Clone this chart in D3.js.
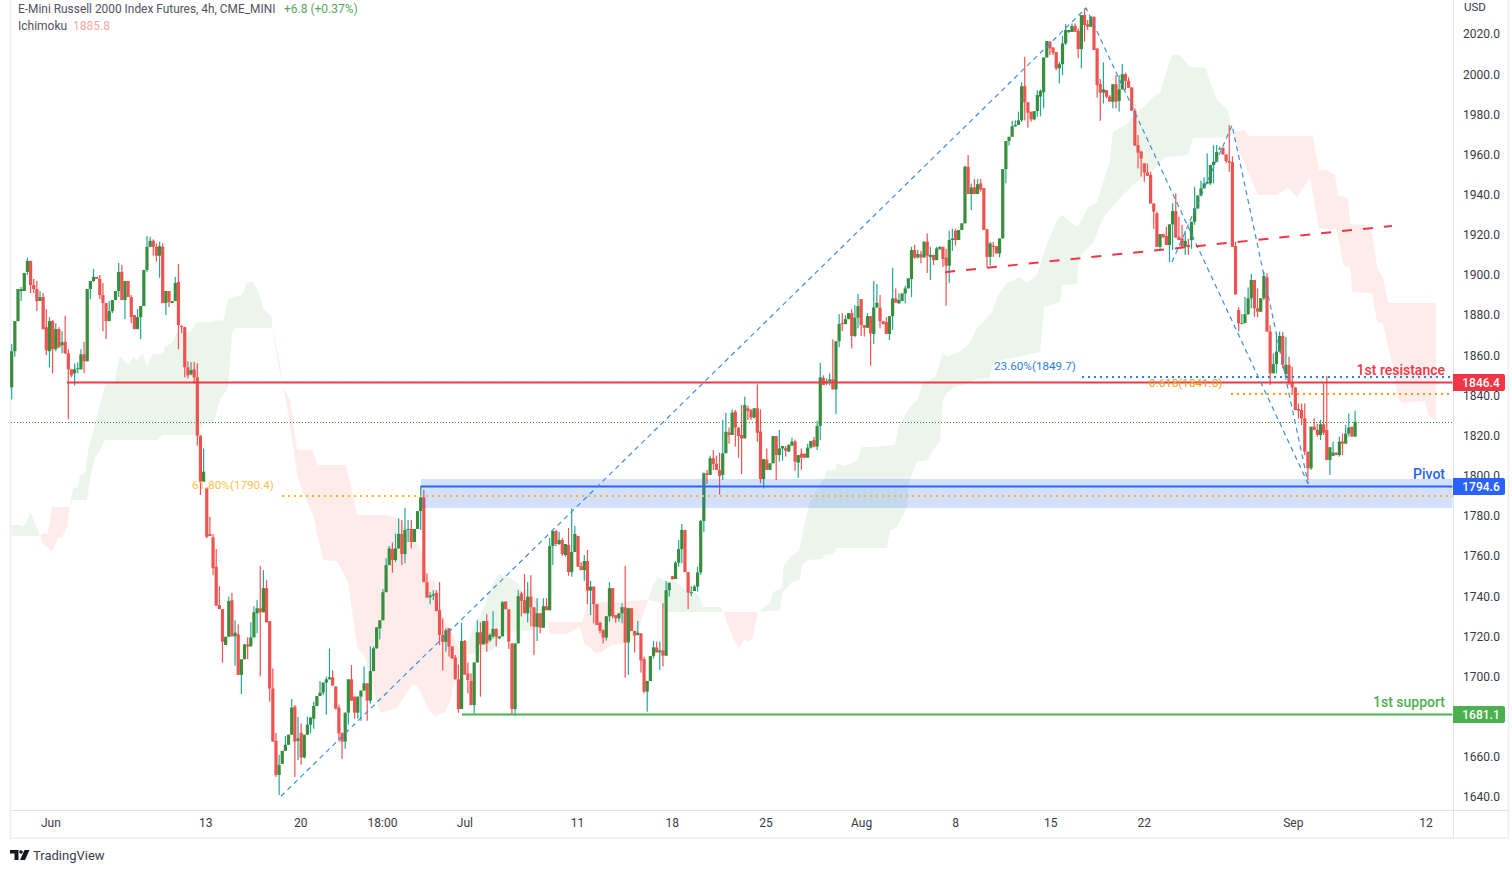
<!DOCTYPE html>
<html>
<head>
<meta charset="utf-8">
<style>
  html, body { margin: 0; padding: 0; background: #fff; overflow: hidden; }
  text { font-family: Roboto, sans-serif; }
</style>
<script src="https://cdn.jsdelivr.net/npm/d3@7"></script>
</head>
<body>
<div id="chart"></div>
<script>
// bars are [open, high, low, close]
const juneBars = [
  [1844,1865.6,1838,1862],[1862,1877,1859.3,1877],[1877,1893,1877,1893],[1892,1894,1887,1893],[1892,1901,1892,1901],
  [1901.5,1908.6,1900,1907],[1907,1907,1891,1895],[1895,1898,1891,1893],[1893,1897,1882,1887],[1887,1892,1887,1889],
  [1889,1891,1873,1873],[1874,1883,1860,1862.5],[1862,1879,1854,1877],[1877,1877.5,1851,1863],[1863,1876,1862,1873],
  [1873,1874,1863.5,1864],[1865,1872,1861,1866.5],[1866.7,1879.7,1860.6,1861],[1861,1863,1828,1853],[1853,1853,1849,1850],
  [1851,1856,1845,1853],[1853,1856.5,1851,1853.5],[1853,1863,1853,1860.5],[1860.5,1866.7,1851,1857],[1857,1893,1857,1893],
  [1893,1897,1888,1897],[1897,1903,1896.5,1899],[1899,1899,1898,1898],[1898,1900,1888,1890],[1890,1896,1872,1886],
  [1886,1886,1868,1877],[1877,1887,1877,1882],[1882,1887.5,1881,1887.5],[1887.5,1892,1887.5,1892],[1892,1906,1889,1901.5],
  [1901.5,1905,1887.5,1887.5],[1887.5,1897,1878,1897],[1897,1897,1889,1889],[1889,1890,1876,1879],[1880,1880,1873,1873],
  [1873,1883,1873,1879],[1879,1884.5,1868,1884.5],[1884.5,1902.5,1884.5,1902.5],[1902.5,1919.4,1901.5,1914],[1914,1919,1914,1917],
  [1917,1917.7,1909.6,1914],[1914,1915.7,1906.6,1909.6],[1909.6,1916.5,1898.6,1914.3],[1914,1915.7,1886,1886],[1886,1892,1880,1892],
  [1892,1892,1884,1886.5],[1886,1887,1886,1887],[1887,1899,1887,1896],[1896.5,1905.4,1863,1875],[1874.5,1875,1871,1874],
  [1874,1874,1849,1854],[1854,1857,1848.5,1850],[1850.5,1856.7,1850,1852.6],[1853,1856.7,1846,1849],[1849,1856,1815,1820],
  [1820,1820,1790.4,1797],[1797,1813.6,1797,1802],[1794,1794,1768.8,1769.6],[1771,1779.6,1770,1770],[1769.3,1771,1750.5,1754],
  [1754.7,1763.5,1735.3,1735.3],[1735.6,1745,1733.6,1733.6],[1733.6,1733.6,1706.9,1717.4],[1715.7,1719.8,1715.7,1719.8],[1719.8,1739.8,1719.8,1737.6],
  [1738,1741.7,1720,1720],[1720,1728,1705.4,1721.8],[1721,1726,1700.8,1700.8],[1700.8,1708.6,1691.3,1708.6],[1708.6,1716,1708.6,1716],
  [1716,1719.5,1708.6,1715],[1715,1727,1715,1719.5],[1719.5,1735,1719.5,1732],[1731.5,1738,1721.5,1734],[1734,1755,1700,1732],
  [1732,1753,1732,1744],[1744,1748,1727,1727],[1727.6,1727.6,1687.5,1694],[1694,1704,1667.6,1667.6],[1668,1672,1650,1651],
  [1651,1661,1641,1656],[1656.5,1663,1656.5,1663],[1663,1670.4,1663,1666],[1666,1671,1666,1671],[1671,1688.8,1671,1684.6],
  [1685,1685.8,1650,1667.6],[1668,1680,1658.4,1669.2],[1672,1676.7,1656,1659.7],[1659.7,1671,1659.2,1671],[1671,1680,1671,1676],
  [1676,1680,1671.7,1679.5],[1679,1687.5,1674,1685.3],[1685.3,1690.3,1685.3,1690.3],[1690.3,1697.7,1690.3,1692],[1692,1697,1690.8,1697],
  [1697,1700,1681,1698.6],[1698.6,1714,1698.6,1699.6],[1699.6,1703,1695.5,1695.5],[1695,1695,1683.5,1684],[1684.5,1686,1667.6,1671.7],
  [1672,1672,1659,1667.6],[1667.6,1682,1664,1682],[1682,1698.6,1676,1698.6],[1698.6,1705.7,1688,1688],[1690,1690,1679,1682],
  [1682,1690,1679,1690],[1690,1693,1678,1693],[1693,1705,1693,1696.6],[1696.6,1696.6,1678,1688],[1688,1715,1686.6,1702.7],
  [1702.7,1715,1702.7,1714],[1714,1724.5,1714,1724.5],[1724,1728,1718.5,1728],[1728,1743.6,1728,1742],[1742,1759,1742,1755.5],
  [1755.5,1765,1755.5,1763.8],[1763.5,1766.8,1751.7,1758],[1758,1771.3,1757,1763.8],[1763.8,1778.8,1763.8,1771],[1771,1778,1755.5,1761],
  [1761,1784,1756.4,1773],[1773,1778,1767,1773.5],[1773.5,1778,1763.8,1767],[1767,1773.5,1767,1773.5],[1773.5,1782.4,1773.5,1782.4],
  [1782.4,1795,1773,1789.2],[1789.2,1793,1747,1747],[1747,1751.4,1739,1739.3],[1739.5,1742,1736,1740.3],[1740.3,1743,1738,1741],
  [1741.7,1743,1732.6,1732.6],[1733,1747,1715.7,1720.7],[1720.7,1729,1703,1717.3],[1717.3,1724,1712.4,1723],[1724,1724,1709.9,1714.9],
  [1715,1715,1709,1709],[1709.5,1710.7,1698.6,1698.6],[1698.6,1706,1682,1683.8]
];
const julyBars = [
  [1683.8,1726.8,1683.8,1717.7],[1717.7,1718.2,1701,1701],[1701.5,1707,1691.6,1698.3],[1697.8,1701.6,1685.8,1685.8],[1685.8,1707,1681.6,1707],
  [1707,1728,1707,1722],[1722,1727,1690,1716],[1716,1727.6,1716,1727.6],[1727.6,1731,1712.4,1716.5],[1718,1721.5,1717.3,1720.7],
  [1720,1732.6,1719,1723.7],[1723.7,1724,1714.9,1719.8],[1719,1720,1718.5,1720],[1720,1737.6,1720,1737],[1737.3,1737.6,1733.5,1733.5],
  [1733.5,1733.5,1713.7,1717.4],[1716.5,1716.5,1680.8,1683.8],[1683.8,1716.5,1680.5,1716.5],[1716.5,1743,1716.5,1740],[1741.4,1742.3,1730,1737.7],
  [1738,1751,1731.5,1731.5],[1731.5,1747,1727,1739.8],[1739.8,1750.5,1725,1734.5],[1734.5,1734.5,1710.7,1724.8],[1724.8,1739,1717.7,1731.5],
  [1731.5,1731.5,1721.5,1724.3],[1724.3,1739,1724.3,1735],[1735,1739,1733,1733],[1733,1769,1733,1765],[1765,1772.5,1755.5,1772.5],
  [1772.5,1773,1765,1766],[1766,1772,1765.5,1768],[1768,1769,1760,1761],[1760.5,1766,1759.7,1766],[1765.5,1774,1750.2,1752],
  [1752,1783.8,1749.7,1762],[1762,1775,1762,1771],[1770,1770,1754.7,1754.7],[1755,1757,1753,1753],[1753,1760.5,1747.7,1757.5],
  [1757.5,1763,1736,1742.8],[1742.8,1747.6,1730.6,1744.8],[1744.8,1744.8,1726.5,1736],[1736,1736,1725.7,1725.7],[1726.8,1727.3,1721.5,1722.8],
  [1723,1723.5,1716.5,1719.4],[1719.4,1730,1717.9,1730],[1730,1747,1727.3,1744],[1744,1744,1729,1730],[1730.6,1730.6,1726.8,1729],
  [1729,1731.5,1727.3,1731.5],[1731.5,1736.5,1726.5,1734.5],[1734.5,1755,1699.4,1717],[1717,1734,1700.8,1734],[1734,1734,1722.7,1722.7],
  [1722.7,1722.7,1711.9,1720.4],[1720.6,1727.7,1720.6,1721.8],[1721.5,1721.5,1702,1708],[1708.7,1709.9,1691.6,1692.5],[1692.5,1697.8,1682.5,1697.8],
  [1697.8,1710.2,1697.8,1710.2],[1710.2,1717.7,1709,1714.5],[1714.5,1717.4,1712,1712],[1712,1717.4,1703.3,1713],[1713,1736.5,1705,1710.4],
  [1710.4,1747.6,1710.4,1743],[1743,1746.7,1739.8,1746.7],[1750,1750,1748.4,1748.4],[1748.6,1757.5,1748.6,1756.7],[1756.7,1768,1754.7,1763.5],
  [1763.5,1776,1756.4,1773],[1773,1773,1752,1752],[1752,1752,1733.6,1741.8],[1742,1745,1740,1742],[1742.6,1745.6,1742.6,1744.8],
  [1744.8,1754.7,1742.3,1751.9],[1751.9,1778,1750.6,1777.5],[1777.5,1801.7,1772,1801.2],[1801.2,1802.9,1795.9,1800.4],[1800.4,1810,1800.4,1808.7],
  [1808.7,1812.8,1802.9,1805.9],[1806,1810,1802.9,1802.9],[1802.9,1811.5,1790.7,1799.9],[1800.4,1827.8,1797.9,1811.2],[1811.2,1831.4,1811.2,1821.9],
  [1821.6,1824,1816,1820.3],[1820.3,1833,1820.3,1831.4],[1831.9,1832.7,1814.5,1824],[1824,1824,1809,1819.8],[1820.3,1835.2,1800.9,1818.6],
  [1818.6,1839.4,1818.6,1835.2],[1833.6,1834.9,1827.8,1832.2],[1832.7,1833.2,1827.8,1829],[1829,1833.6,1828.5,1833.6],[1833.6,1845.5,1817,1821.4],
  [1822,1833,1796.2,1798.4],[1798.4,1808.3,1793.7,1808.3],[1808,1813.6,1802.9,1802.9],[1802.9,1806.2,1802.9,1806.2],[1806.2,1819.8,1806.2,1819.8],
  [1819.8,1819.8,1797.9,1810.3],[1810.3,1822.8,1807,1813.6],[1813.6,1814.8,1807.5,1814.8],[1813.7,1814.8,1809.5,1812.5],[1812,1815.8,1812,1815.3],
  [1815,1819,1815,1817],[1817,1818,1802.5,1807],[1806.5,1810.3,1799,1810.3],[1811,1813.6,1803,1809],[1811,1811,1809,1809],
  [1809,1816,1809,1814],[1814,1817.3,1813.5,1817.3],[1817.8,1819.4,1814.2,1814.5],[1814.5,1827.4,1812.8,1824.8],[1824.8,1856.3,1817.8,1849],
  [1848.8,1850,1845.2,1845.2],[1846,1848.5,1845.2,1847],[1847,1851,1845,1848],[1848,1868,1843,1843],[1843,1867,1830.7,1867]
];
const augustBars = [
  [1867,1880.5,1864,1875.5],[1876,1881,1872,1875.7],[1875.5,1879.9,1875.5,1878],[1878,1881,1878,1881],[1881,1883,1863.4,1869.6],
  [1869.6,1885,1869,1878.7],[1878.7,1890.5,1873.4,1884.5],[1888,1888,1869.6,1875],[1875,1875,1869.3,1873.7],[1873.7,1881,1873.7,1879.5],
  [1879.5,1879.5,1854.8,1870.9],[1870.6,1897,1865.6,1883.8],[1883.8,1895.5,1883.8,1886.2],[1883.7,1890,1873.4,1877],[1877,1877,1875.5,1875.5],
  [1876.5,1879,1870.6,1870.6],[1870.6,1879.5,1867.6,1879.5],[1879.5,1903.6,1872.6,1888.3],[1888.3,1893.3,1886.2,1886.2],[1885.9,1890.8,1885.5,1887.5],
  [1887,1890.8,1887,1890.8],[1890.8,1894.6,1885.8,1893.3],[1893.3,1898.3,1893.3,1898.3],[1898,1914,1889,1912.4],[1912.4,1915,1908,1908.7],
  [1908.7,1912.4,1908.2,1910.4],[1910.4,1912,1905.8,1908.7],[1908.7,1916.6,1908.7,1916.6],[1916.6,1920.7,1901,1909.6],[1909,1914,1897.5,1910],
  [1910,1910,1905,1907.4],[1907.4,1914,1907.4,1913.2],[1913,1914.4,1912.4,1913.9],[1914,1914,1904,1908],[1908.7,1913,1884.7,1904.6],
  [1904.6,1922,1896,1917.4],[1917.4,1923,1912,1918.2],[1922,1923,1914.6,1917.4],[1917.4,1922.4,1917.4,1922.4],[1922.4,1925.7,1922.4,1925.7],
  [1925.7,1954.4,1925.7,1953.9],[1953.9,1959.7,1940.3,1940.3],[1940.3,1945.6,1932.3,1943.6],[1943.6,1947.8,1940.3,1940.3],[1940.3,1947.8,1940.3,1945.2],
  [1945.6,1947.8,1941.5,1942.6],[1943.3,1943.3,1922.4,1922.4],[1922.7,1923,1904,1909],[1909,1916.5,1904.6,1915.7],[1914.6,1916.5,1909,1914],
  [1914.3,1914.3,1910.7,1910.7],[1910.7,1918.2,1908.7,1918.2],[1918.2,1952.7,1918.2,1952.7],[1952.7,1966.7,1945.6,1966.7],[1966.7,1968.8,1964.4,1968.8],
  [1968.8,1976.8,1968.8,1974],[1974,1977,1973.8,1974.7],[1974.7,1981.3,1974.7,1977],[1977,1996,1976.3,1994],[1994,2008.7,1977,1986],
  [1986,1986,1973.3,1980.8],[1981.3,1981.3,1976.3,1977.5],[1977.5,1981.6,1977,1981.6],[1981.6,1992,1978.8,1989.6],[1988.8,1992.4,1979,1991.7],
  [1991,2008.3,1983,2008.3],[2008.3,2016.5,2008.3,2016.5],[2016.2,2016.5,2009.5,2012.8],[2013.3,2013.3,2009.5,2010.7],[2011,2011,2002,2002.9],
  [2002.9,2006,1995.4,2005],[2005,2019,1999.5,2015.3],[2015.3,2025,2014.5,2022],[2021,2022,2020.4,2022],[2021,2025.3,2021,2024],
  [2024,2025.3,2021.1,2021.1],[2021.6,2022.8,2007.9,2012.5],[2012.5,2029.4,2002.9,2029.4],[2029.4,2032.8,2016.2,2024.5],[2024.9,2027,2022,2023.6],
  [2023.6,2029,2023.6,2028.6],[2028.6,2028.6,2012,2012],[2012.8,2012.8,1988.3,1994.6],[1995,1997.6,1976.8,1990.8],[1990.8,2005.9,1985.4,1992.4],
  [1992,1992,1988,1988.8],[1988.8,1989.6,1986.3,1986.3],[1986.3,1995,1983,1995],[1995,1999.5,1983,1986.3],[1986.6,1999.5,1981.3,1992.4],
  [1992.4,2005,1992.4,2000],[2000,2000.7,1992,1996.6],[1996.7,1998.4,1993,1993.2],[1993.4,1993.4,1981.8,1981.8],[1981.8,1983,1964.4,1964.4],
  [1964.7,1969.7,1953,1960.9],[1961.4,1962,1949,1958],[1955.6,1955.6,1946.4,1951],[1951,1955.5,1949.4,1949.4],[1949.8,1951.4,1935.6,1935.6],
  [1935.6,1935.6,1923,1931.5],[1930.7,1931.5,1914,1914],[1914,1920.4,1912,1920.4],[1920.4,1920.4,1918.7,1918.7],[1919.4,1924,1914.9,1914.9],
  [1914.9,1925.2,1906.3,1925.2],[1925.2,1935.7,1912.4,1931.8],[1931.8,1940.6,1918.6,1918.6],[1919,1929,1917.4,1917.4],[1918.2,1924.9,1914,1914],
  [1914,1922,1910,1917],[1915,1918,1910,1913.8],[1917.4,1926.5,1913,1926.5],[1926.5,1944,1925,1933.2],[1933.2,1939.6,1932.7,1939.6],
  [1939.6,1947,1939.3,1943.1],[1943.1,1948.6,1943.1,1945.6],[1945.6,1960.6,1945.3,1946.3],[1945.6,1954.7,1944.8,1954.7],[1954.7,1964.7,1945.6,1956.4],
  [1956.4,1964.7,1956.4,1961.2],[1962.6,1963.9,1962.3,1963],[1963.4,1963.4,1960,1960],[1960,1960,1955.6,1956.7],[1956.7,1974.7,1951.4,1955.9]
];
const septemberBars = [
  [1956.2,1959,1914,1914],[1914.4,1916.6,1890.3,1890.3],[1882.5,1883.9,1871.8,1875.9],[1875.9,1880.5,1875.7,1876],[1876,1889,1876,1880.5],
  [1880.5,1893.8,1880,1888.4],[1888.4,1900.5,1883.4,1897.5],[1897.5,1897.5,1879.2,1883.4],[1883.4,1893.3,1879,1881.7],[1881.7,1888.4,1881.7,1888.4],
  [1888.4,1901.6,1887.5,1899.5],[1898.8,1900.8,1871.8,1871.8],[1871.8,1875,1845.2,1851],[1851,1861,1851,1855.6],[1855.6,1871,1851,1861.8],
  [1861.8,1871.7,1861.8,1869.6],[1869.6,1871.7,1853.5,1855.2],[1850.7,1869,1849.3,1855.2],[1855.2,1859.3,1845.2,1846],[1846.5,1854.3,1841,1844],
  [1844,1844,1832.7,1832.7],[1833.2,1836,1828.6,1832.4],[1832.7,1836,1825.3,1828.6],[1828.6,1836,1810.3,1812],[1812,1812,1797.9,1803.7],
  [1803.7,1824.4,1802.9,1824.4],[1824.4,1828.6,1822.8,1822.8],[1822.8,1826,1819.5,1820.3],[1820.3,1827.8,1817.8,1825.6],[1825.6,1846,1820.3,1821.4],
  [1822.8,1849.7,1807.8,1807.8],[1807.8,1814.2,1800.4,1814.2],[1809.9,1817,1809.9,1811.5],[1811.5,1811.5,1810.3,1810.3],[1810.3,1819.5,1809.5,1817],
  [1817,1821,1810.3,1816],[1816,1825.3,1816,1821],[1821,1831,1819.5,1824],[1824.4,1824.4,1819.5,1819.5],[1819.5,1832.4,1819.5,1826.9]
];

// ichimoku cloud edges as [bar, price]
const green1Upper = [[0,1775.5],[3,1775.5],[3.5,1774.5],[4.5,1776.4],[6,1781.9],[7,1778],[8,1774],[9,1770]];
const green1Lower = [[0,1770],[9,1770]];
const red1Upper = [[9,1770],[10,1771.4],[11.5,1771.4],[12.8,1784.4],[18.5,1784.4]];
const red1Lower = [[9,1770],[10,1766],[12.8,1762.5],[14.7,1769],[16,1769.5],[17.6,1774.5],[18.5,1784.4]];
const green2Upper = [[18.5,1784.4],[19.5,1793.9],[21,1794.4],[21.7,1800.4],[23.3,1801.3],[24.3,1812.8],[24.9,1816.3],[26.2,1824.3],[29.7,1845.2],[32.8,1846.7],[33.5,1854.1],[34.4,1859.6],[37,1855.1],[38.6,1859.1],[39.8,1857.6],[41.7,1860.6],[43,1854.6],[44.9,1860.6],[48,1860.6],[48.7,1864.1],[51,1866.1],[52.5,1871.1],[56.7,1871.6],[58.9,1876.6],[63,1876.6],[66.2,1877.6],[67.2,1876.6],[68.8,1888],[73.2,1890],[74.8,1896.5],[76.7,1896.5],[78.6,1891],[79.9,1883.5],[82.7,1879]];
const green2Lower = [[18.5,1784.4],[19.5,1787.9],[23.9,1787.9],[24.9,1797.9],[26.5,1809.3],[27.7,1811.3],[29.7,1817.8],[46.5,1817.8],[47.8,1820.3],[58.9,1820.3],[60.8,1825.7],[64,1825.7],[66.2,1837.7],[68.8,1843.7],[70,1871.1],[71,1873.6],[82.7,1873.6]];
const red2Upper = [[82.7,1876.6],[85.3,1855.1],[86.2,1844.2],[88.5,1837.7],[90.7,1812.8],[95.5,1812.8],[97.4,1805.3],[106.3,1805.3],[109.8,1780.4],[119.3,1780.4],[123.4,1777.9],[129.8,1764.5],[132,1749.6],[134.5,1747.1],[136.1,1731.6],[139.3,1723.2],[143.1,1710.7]];
const red2Lower = [[82.7,1876.6],[84.7,1855.1],[87.2,1837.7],[91,1797.9],[95.8,1780.4],[99,1758],[103.4,1757.5],[106.9,1747.1],[109.8,1714.7],[112.3,1709.7],[117.1,1681.8],[122.5,1684.3],[127.2,1695.8],[128.8,1695.8],[133,1682.3],[134.9,1680.3],[137.7,1682.3],[139.9,1689.8],[140.9,1699.8],[143.1,1710.7]];
const green3Upper = [[143.1,1710.7],[147.9,1728.1],[149.8,1733.1],[152,1743.1],[154.6,1751.1],[158.4,1749.1],[160.9,1746.6],[162.2,1742.1],[164.7,1744.6],[170.1,1727.1]];
const green3Lower = [[143.1,1710.7],[151.1,1712.2],[153,1713.2],[155.8,1721.7],[161.6,1722.7],[165.7,1723.2],[170.1,1727.1]];
const red3Upper = [[170.1,1727.1],[181.3,1727.1],[183.2,1736.6],[188.6,1737.1],[193.4,1737.1],[200.7,1738.1],[202.3,1738.1]];
const red3Lower = [[170.1,1727.1],[171.1,1721.2],[176.5,1721.2],[180.6,1724.7],[182.2,1715.7],[183.8,1714.7],[185.4,1711.7],[187.6,1712.2],[190.8,1715.7],[195.9,1716.7],[198.8,1721.7],[200.7,1730.6],[202.3,1738.1]];
const green4Upper = [[202.3,1738.1],[203.5,1744.6],[205.4,1749.6],[208.3,1747.1],[210.8,1748.1],[213.1,1744.1],[218.2,1741.1],[219.8,1734.6],[225.1,1734.6],[226.2,1732.1]];
const green4Lower = [[202.3,1738.1],[206.1,1737.1],[208.6,1732.1],[226.2,1732.1]];
const red4Upper = [[226.2,1732.1],[237.2,1732.1]];
const red4Lower = [[226.2,1732.1],[227.4,1726.6],[229.3,1719.2],[231.2,1714.2],[233.1,1718.7],[234,1717.2],[235.6,1719.2],[237.2,1732.1]];
const green5Upper = [[237.2,1732.1],[241,1736.6],[242,1742.1],[244.9,1744.1],[245.2,1754.5],[247.4,1759.5],[250.3,1763],[251.5,1772],[253.1,1783.9],[254.4,1789.4],[257.9,1797.9],[259.2,1802.8],[261.7,1802.8],[262.3,1806.3],[264.3,1804.8],[267.1,1806.3],[268.7,1807.8],[270.3,1814.3],[273.8,1814.3],[280.8,1815.3],[282,1825.2],[285.5,1834.2],[287.8,1837.7],[289.7,1846.2],[293.5,1849.2],[296,1861.1],[297.6,1859.6],[301.4,1861.6],[304.6,1866.1],[306.8,1873.6],[308.7,1876.6],[311.6,1881.5],[313.5,1890],[316.4,1896],[320.5,1898.9],[322.7,1896],[325.9,1900],[329.1,1915.9],[332.6,1928.3],[334.2,1929.8],[335.8,1927.3],[338.6,1923.9],[339.6,1925.8],[342.1,1933.8],[345,1936.3],[349.1,1957.2],[350,1971.2],[353.9,1974.6],[356.4,1978.6],[362.8,1988.6],[365,1990.6],[366.6,1999.5],[368.8,2009.5],[371.3,2009.5],[374.5,2003.5],[379.3,2003.5],[383.1,1987.1],[386.6,1982.1],[387.6,1974.6],[387.9,1970.7]];
const green5Lower = [[237.2,1732.1],[244.2,1733.1],[244.9,1741.6],[248,1747.1],[250.6,1748.1],[251.2,1755.5],[253.1,1758],[257.6,1758.5],[258.5,1760.5],[261,1761],[262.3,1764],[278.2,1764],[279.2,1773],[281.4,1774.5],[284.6,1784.4],[284.9,1794.4],[286.2,1801.3],[287.8,1806.8],[291.3,1807.8],[292.5,1811.8],[295.1,1817.8],[296,1837.7],[297.3,1841.2],[299.2,1843.7],[304.6,1846.7],[307.2,1848.2],[311,1848.7],[311.9,1856.6],[326.9,1861.6],[328.2,1884],[333.2,1886.5],[333.9,1895],[338.6,1895.5],[339,1908.4],[343.7,1915.9],[346.9,1928.3],[352.3,1938.3],[356.4,1944.8],[362.8,1952.2],[366.6,1958.7],[373.9,1959.7],[375.5,1968.2],[387.3,1968.7],[387.9,1970.7]];
const red5Upper = [[387.9,1970.7],[392,1972.2],[393,1969.2],[413.6,1969.2],[415.5,1952.2],[418.1,1952.2],[420.6,1949.7],[421.6,1939.8],[424.8,1938.3],[425.4,1925.4],[429.5,1924.9],[432.4,1920.9],[434,1903.9],[435.9,1898.5],[437.5,1886],[452.7,1886],[452.7,1826.7]];
const red5Lower = [[387.9,1970.7],[390.4,1960.7],[393,1951.2],[396.1,1939.8],[402.2,1939.8],[405.7,1943.3],[408.6,1938.8],[412.7,1948.3],[415.5,1923.4],[421.3,1922.4],[423.2,1904.9],[425.4,1903.9],[426.1,1891.5],[432.4,1891],[434,1876.5],[435.9,1876],[437.2,1866.1],[439.1,1854.1],[440.7,1837.7],[442.3,1836.2],[449.2,1837.2],[450.2,1830.2],[452.7,1826.7]];

const priceTicks = [1640,1660,1680,1700,1720,1740,1760,1780,1800,1820,1840,1860,1880,1900,1920,1940,1960,1980,2000,2020];
const timeTickBars = [12.3,61.5,91.7,117.7,143.9,179.7,209.8,239.6,270,299.9,330.1,359.8,407.2,449.4];
const timeTickLabels = ["Jun","13","20","18:00","Jul","11","18","25","Aug","8","15","22","Sep","12"];

// drawings on the chart, [bar, price]
const longSwing = [[85.6,1640.4],[341.5,2032.9],[412.1,1795.9]];
const shortSwing = [[368.8,1906.4],[387.9,1974.6],[412.1,1795.9]];
const necklinePoints = [[296.7,1901.4],[438.7,1924.4]];

const resistance = 1846.4, pivot = 1794.6, support = 1681.1, lastClose = 1826.9;
const pivotZone = [1784, 1798.4];

const width = 1512, height = 873;
const bars = [...juneBars, ...julyBars, ...augustBars, ...septemberBars];

const x = d3.scaleLinear().domain([0, 427.7]).range([11.7, 1357.3]);
const y = d3.scaleLinear().domain([1640, 2020]).range([797, 34]);

const svg = d3.select("#chart").append("svg")
  .attr("width", width).attr("height", height)
  .style("display", "block");

// frame
const frame = svg.append("g").attr("fill", "none");
frame.append("path").attr("d", "M10.5,0V838H1508.5V0").attr("stroke", "#eceef3").attr("stroke-width", 1.5);
frame.append("path").attr("d", "M10,810.5H1508").attr("stroke", "#e0e3eb");
frame.append("path").attr("d", "M1453.5,0V838").attr("stroke", "#e0e3eb");

// cloud
const edge = d3.line().x(d => x(d[0])).y(d => y(d[1]));
const clouds = [
  [green1Upper, green1Lower, "g"], [red1Upper, red1Lower, "r"],
  [green2Upper, green2Lower, "g"], [red2Upper, red2Lower, "r"],
  [green3Upper, green3Lower, "g"], [red3Upper, red3Lower, "r"],
  [green4Upper, green4Lower, "g"], [red4Upper, red4Lower, "r"],
  [green5Upper, green5Lower, "g"], [red5Upper, red5Lower, "r"]
];
svg.append("g").selectAll("path").data(clouds).enter().append("path")
  .attr("d", d => edge(d[0].concat(d[1].slice().reverse())) + "Z")
  .attr("fill", d => d[2] == "g" ? "rgba(67,160,71,0.1)" : "rgba(244,67,54,0.1)");

// candles
const candles = svg.append("g");
candles.selectAll(".wick").data(bars).enter().append("rect")
  .attr("x", (d, i) => x(i) - 0.6)
  .attr("width", 1.2)
  .attr("y", d => y(d[1]))
  .attr("height", d => Math.max(1, y(d[2]) - y(d[1])))
  .attr("fill", d => d[3] >= d[0] ? "#26a69a" : "#ef5350");
candles.selectAll(".body").data(bars).enter().append("rect")
  .attr("x", (d, i) => x(i) - 1.6)
  .attr("width", 3.2)
  .attr("y", d => y(Math.max(d[0], d[3])))
  .attr("height", d => Math.max(1, Math.abs(y(d[0]) - y(d[3]))))
  .attr("fill", d => d[3] >= d[0] ? "#388e3c" : "#ef5350");

// levels and zones
const rightEnd = 1452.5;
svg.append("rect")
  .attr("x", 421).attr("width", rightEnd - 421)
  .attr("y", y(pivotZone[1])).attr("height", y(pivotZone[0]) - y(pivotZone[1]))
  .attr("fill", "rgba(41,98,255,0.2)");

const dotted = [[lastClose, 11, "#388e3c", 1, "1 2"], [1790.4, 282, "#f9b72c", 2, "2 4"], [1841, 1231, "#e8a020", 2, "2 4"], [1849.7, 1082, "#2f7fd6", 2, "2 4"]];
svg.append("g").attr("shape-rendering", "crispEdges").selectAll("line").data(dotted).enter().append("line")
  .attr("x1", d => d[1]).attr("x2", rightEnd)
  .attr("y1", d => Math.round(y(d[0])) + 0.5).attr("y2", d => Math.round(y(d[0])) + 0.5)
  .attr("stroke", d => d[2]).attr("stroke-width", d => d[3]).attr("stroke-dasharray", d => d[4]);

const levels = [[resistance, 67, "#f23645"], [pivot, 421, "#2962ff"], [support, 462, "#4caf50"]];
svg.append("g").selectAll("line").data(levels).enter().append("line")
  .attr("x1", d => d[1]).attr("x2", rightEnd)
  .attr("y1", d => y(d[0])).attr("y2", d => y(d[0]))
  .attr("stroke", d => d[2]).attr("stroke-width", 2);

// swings and neckline
[longSwing, shortSwing].forEach(pts => {
  svg.append("path").attr("d", edge(pts)).attr("fill", "none")
    .attr("stroke", "#3d8fe0").attr("stroke-width", 1.2).attr("stroke-dasharray", "5 4");
});
svg.append("path").attr("d", edge(necklinePoints)).attr("fill", "none")
  .attr("stroke", "#f23645").attr("stroke-width", 2).attr("stroke-dasharray", "10 11");

// axes
const yAxis = d3.axisRight(y).tickValues(priceTicks).tickSize(0).tickPadding(0).tickFormat(d => d.toFixed(1));
const yG = svg.append("g").attr("transform", "translate(1463,0)").call(yAxis);
const xAxis = d3.axisBottom(x).tickValues(timeTickBars).tickSize(0).tickPadding(0).tickFormat((d, i) => timeTickLabels[i]);
const xG = svg.append("g").attr("transform", "translate(0,818)").call(xAxis);
[yG, xG].forEach(g => {
  g.select(".domain").remove();
  g.selectAll("text").attr("font-family", "Roboto, sans-serif").attr("font-size", 12).attr("fill", "#363a45");
});

svg.append("text").attr("x", 1464).attr("y", 11).attr("font-size", 11.5).attr("fill", "#363a45").text("USD");

// price tags
const tags = [[resistance, "#f23645", 374, 17], [pivot, "#2962ff", 478, 17], [support, "#4caf50", 706, 17]];
const tag = svg.append("g").selectAll("g").data(tags).enter().append("g");
tag.append("path")
  .attr("d", d => `M1453,${d[2]}h50a2,2 0 0 1 2,2v${d[3]-4}a2,2 0 0 1 -2,2h-50z`)
  .attr("fill", d => d[1]);
tag.append("text")
  .attr("x", 1481).attr("y", d => d[2] + 13).attr("text-anchor", "middle")
  .attr("font-size", 12).attr("font-weight", 500).attr("fill", "#fff")
  .text(d => d[0].toFixed(1));

// labels on the chart
const labels = [
  ["1st resistance", 1445, 375, "end", "#f23645", 14, 500],
  ["Pivot", 1445, 479, "end", "#2962ff", 14, 500],
  ["1st support", 1445, 707, "end", "#4caf50", 14, 500],
  ["61.80%(1790.4)", 192, 489, "start", "#fcc14e", 11.7, 400],
  ["0.618(1841.0)", 1149, 387, "start", "#e8a020", 11.7, 400],
  ["23.60%(1849.7)", 994, 370, "start", "#2f7fd6", 11.7, 400]
];
svg.append("g").selectAll("text").data(labels).enter().append("text")
  .attr("x", d => d[1]).attr("y", d => d[2]).attr("text-anchor", d => d[3])
  .attr("fill", d => d[4]).attr("font-size", d => d[5]).attr("font-weight", d => d[6])
  .text(d => d[0]);

// legend
svg.append("text").attr("x", 18).attr("y", 12.5).attr("font-size", 11.9).attr("fill", "#50535e")
  .text("E-Mini Russell 2000 Index Futures, 4h, CME_MINI");
svg.append("text").attr("x", 284).attr("y", 12.5).attr("font-size", 12).attr("fill", "#5aa85e").text("+6.8 (+0.37%)");
svg.append("text").attr("x", 18).attr("y", 30).attr("font-size", 12).attr("fill", "#50535e").text("Ichimoku");
svg.append("text").attr("x", 73).attr("y", 30).attr("font-size", 12).attr("fill", "#f5a8a8").text("1885.8");

// tradingview mark
const logo = svg.append("g").attr("fill", "#131722");
logo.append("path").attr("d", "M10,850H18.5V860H14.5V853.5H10Z");
logo.append("circle").attr("cx", 21).attr("cy", 852).attr("r", 1.8);
logo.append("path").attr("d", "M24.5,850H29.5L25,860H20Z");
svg.append("text").attr("x", 33).attr("y", 860).attr("font-size", 13).attr("fill", "#3a3e4a").text("TradingView");
</script>
</body>
</html>
